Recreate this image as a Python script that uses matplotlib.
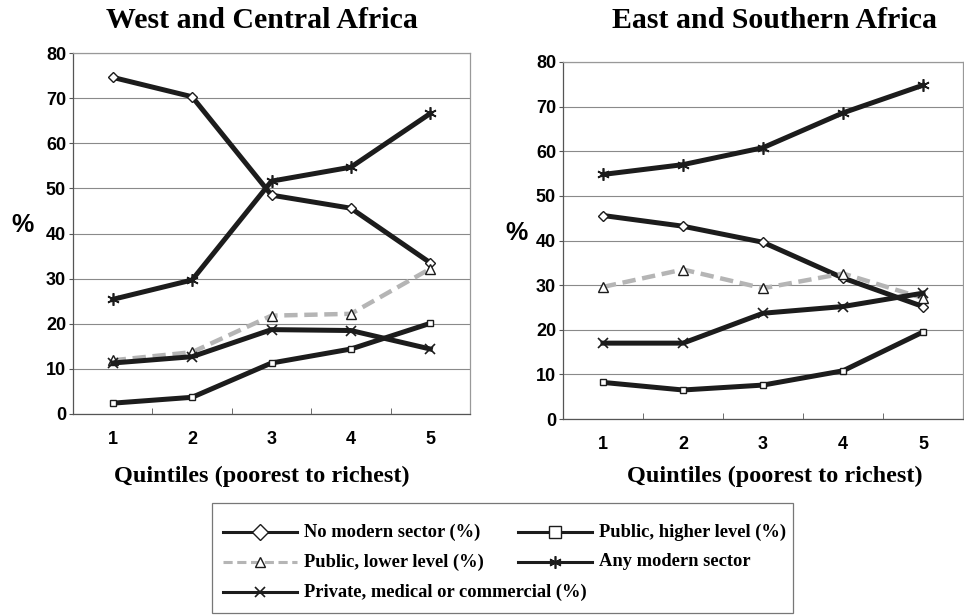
import matplotlib
matplotlib.use("Agg")
import matplotlib.pyplot as plt
from matplotlib.lines import Line2D
from matplotlib.patches import Rectangle

quintiles = [1, 2, 3, 4, 5]
series_names = ["No modern sector (%)", "Public, lower level (%)",
                "Private, medical or commercial (%)", "Public, higher level (%)",
                "Any modern sector"]

west_no_modern = [74.6, 70.3, 48.5, 45.6, 33.5]
west_public_lower = [11.9, 13.7, 21.8, 22.2, 32.2]
west_private = [11.3, 12.7, 18.7, 18.5, 14.4]
west_public_higher = [2.4, 3.7, 11.3, 14.4, 20.1]
west_any_modern = [25.4, 29.7, 51.6, 54.7, 66.6]

east_no_modern = [45.6, 43.2, 39.6, 31.6, 25.2]
east_public_lower = [29.6, 33.5, 29.3, 32.6, 27.1]
east_private = [17.0, 17.0, 23.7, 25.2, 28.2]
east_public_higher = [8.2, 6.5, 7.6, 10.8, 19.5]
east_any_modern = [54.8, 57.0, 60.8, 68.6, 74.8]

titles = ["West and Central Africa", "East and Southern Africa"]
xlabel = "Quintiles (poorest to richest)"
yticks = [0, 10, 20, 30, 40, 50, 60, 70, 80]

dark = "#1c1c1c"
styles = [
    dict(color=dark, lw=3.6, marker="D", ms=5, mfc="white", mec=dark, mew=1.0),
    dict(color="#b5b5b5", lw=3.2, ls=(0, (3, 1.5)), marker="^", ms=7, mfc="white", mec=dark, mew=1.0),
    dict(color=dark, lw=3.6, marker="x", ms=7, mec=dark, mew=1.2),
    dict(color=dark, lw=3.6, marker="s", ms=5, mfc="white", mec=dark, mew=1.0),
    dict(color=dark, lw=3.6, marker=(6, 2, 0), ms=9, mec=dark, mew=1.2),
]

fig = plt.figure(figsize=(9.64, 6.15), dpi=100)
W, H = 964, 615
boxes = [(73, 53, 470, 414), (563, 62, 963, 419)]
data = [
    [west_no_modern, west_public_lower, west_private, west_public_higher, west_any_modern],
    [east_no_modern, east_public_lower, east_private, east_public_higher, east_any_modern],
]
title_x = [262, 775]
pct_pos = [(22, 225), (517, 233)]
xlab_y = 476

sans = ["Liberation Sans", "DejaVu Sans"]
serif = ["Liberation Serif", "DejaVu Serif"]

for i, (x0, y0, x1, y1) in enumerate(boxes):
    ax = fig.add_axes([x0 / W, 1 - y1 / H, (x1 - x0) / W, (y1 - y0) / H])
    for vals, st in zip(data[i], styles):
        ax.plot(quintiles, vals, **st, zorder=3)
    ax.set_xlim(0.5, 5.5)
    ax.set_ylim(0, 80)
    ax.set_yticks(yticks)
    ax.set_xticks(quintiles)
    ax.set_xticks([1.5, 2.5, 3.5, 4.5], minor=True)
    ax.yaxis.grid(True, color="#8a8a8a", lw=0.8)
    ax.set_axisbelow(True)
    for s in ax.spines.values():
        s.set_color("#999999")
        s.set_linewidth(0.9)
    ax.spines["left"].set_color("#555555")
    ax.spines["bottom"].set_color("#555555")
    ax.tick_params(axis="both", length=3, color="#555555", labelsize=13, pad=2)
    ax.tick_params(axis="x", which="major", length=0, pad=12)
    ax.tick_params(axis="x", which="minor", length=4, direction="in", color="#555555")
    for lab in ax.get_xticklabels() + ax.get_yticklabels():
        lab.set_fontfamily(sans)
        lab.set_fontweight("bold")
    fig.text(pct_pos[i][0] / W, 1 - pct_pos[i][1] / H, "%", ha="center", va="center",
             fontsize=18, fontweight="bold", family=sans)
    fig.text(title_x[i] / W, 1 - xlab_y / H, xlabel, ha="center", va="center",
             fontsize=17.5, fontweight="bold", family=serif)
    fig.text(title_x[i] / W, 1 - 20 / H, titles[i], ha="center", va="center",
             fontsize=21.5, fontweight="bold", family=serif)

# legend, drawn by hand to reproduce the irregular two-column layout
fig.patches.append(Rectangle((212 / W, 1 - 613 / H), (793 - 212) / W, (613 - 503) / H,
                             transform=fig.transFigure, fill=False,
                             edgecolor="#777777", lw=0.9))
leg_pos = [(223, 532), (223, 562), (223, 592), (518, 532), (518, 562)]
hlen = 74
for (hx, hy), name, st in zip(leg_pos, series_names, styles):
    yy = 1 - hy / H
    lst = {k: v for k, v in st.items() if k not in ("marker", "lw", "ms", "mfc", "mec", "mew")}
    line = Line2D([hx / W, (hx + hlen) / W], [yy, yy], transform=fig.transFigure,
                  lw=2.2, **lst)
    fig.lines.append(line)
    mk = Line2D([(hx + hlen / 2) / W], [yy], transform=fig.transFigure, ls="none",
                **{k: v for k, v in st.items() if k not in ("ls", "lw", "color")})
    if st["marker"] in ("D", "s"):
        mk.set_markersize(st["ms"] + 3)
    fig.lines.append(mk)
    fig.text((hx + hlen + 7) / W, yy, name, ha="left", va="center",
             fontsize=13.3, fontweight="bold", family=serif)

fig.savefig("out.png", dpi=100)
